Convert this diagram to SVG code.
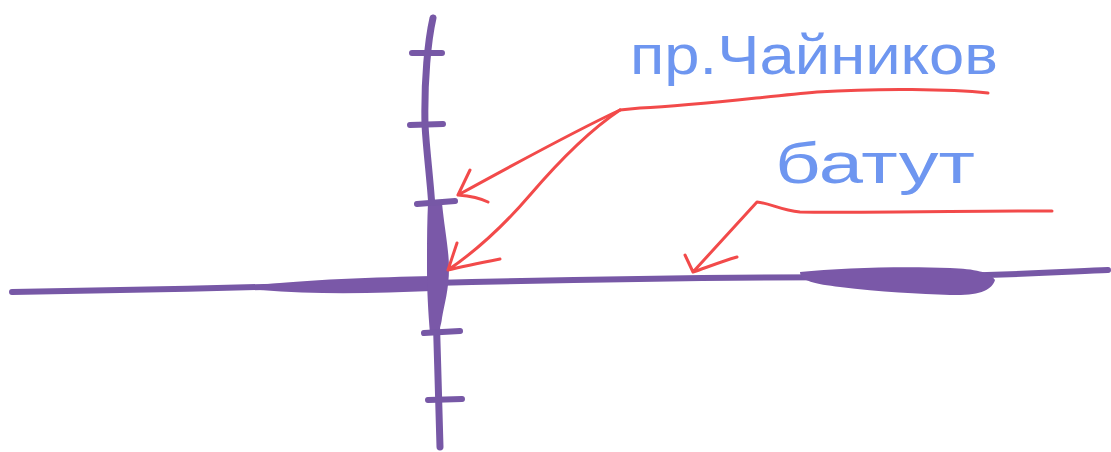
<svg xmlns="http://www.w3.org/2000/svg" width="1111" height="452" viewBox="0 0 1111 452">
<style>
.ax{fill:none;stroke:#7758a6;stroke-linecap:round;stroke-linejoin:round}
.blob{fill:#7a58a8}
.r{fill:none;stroke:#f24a4a;stroke-width:3;stroke-linecap:round;stroke-linejoin:round}
.t{font-family:"Liberation Sans",Arial,sans-serif;fill:#6e96f0}
</style>
<rect width="1111" height="452" fill="#ffffff"/>
<g id="axes">
<path class="ax" stroke-width="6" d="M12,292 C150,290 300,286 433,283 C600,279 750,277 900,277 C1000,276 1060,272 1108,270"/>
<path class="blob" d="M260,285 C300,280 380,277 432,276 L432,291 C380,293 320,295 260,290 Z"/>
<path class="blob" d="M800,272 C840,268 900,266 950,268 C975,269 990,272 995,280 C992,290 980,296 950,295 C920,294 880,292 840,287 C815,284 800,281 800,272 Z"/>
<path class="ax" stroke-width="7" d="M433,18 C428,40 424,80 425,125 C427,160 432,190 434,240 C436,300 438,380 440,447"/>
<path class="blob" d="M428,203 L442,203 C444,225 449,250 449,268 C449,290 444,305 442,318 C441,326 439,332 436,334 L430,334 C428,310 427,290 427,270 C427,245 427,225 428,203 Z"/>
<path class="ax" stroke-width="6" d="M412,53 L442,53 M410,125 L443,124 M417,204 L455,201 M424,333 L460,331 M428,400 L462,399"/>
</g>
<g id="connectors">
<path class="r" d="M988,93 C950,89 880,88 817,92 C760,97 700,105 640,108 L620,110"/>
<path class="r" d="M620,110 C590,124 540,150 458,195 M458,195 L470,170 M458,195 C470,196 480,198 488,202"/>
<path class="r" d="M620,110 C590,130 560,160 530,195 C500,230 470,255 448,270 M448,270 L457,243 M448,270 C465,266 485,262 500,259"/>
<path class="r" d="M1052,211 C950,211 850,213 800,212 C780,210 770,203 757,202 L693,272 M693,272 L685,255 M693,272 C705,268 720,262 737,257"/>
</g>
<g id="label-prch">
<text class="t" x="630" y="74" font-size="55" textLength="368" lengthAdjust="spacingAndGlyphs">пр.Чайников</text>
</g>
<g id="label-batut">
<text class="t" x="775" y="183" font-size="58" textLength="200" lengthAdjust="spacingAndGlyphs">батут</text>
</g>
</svg>
